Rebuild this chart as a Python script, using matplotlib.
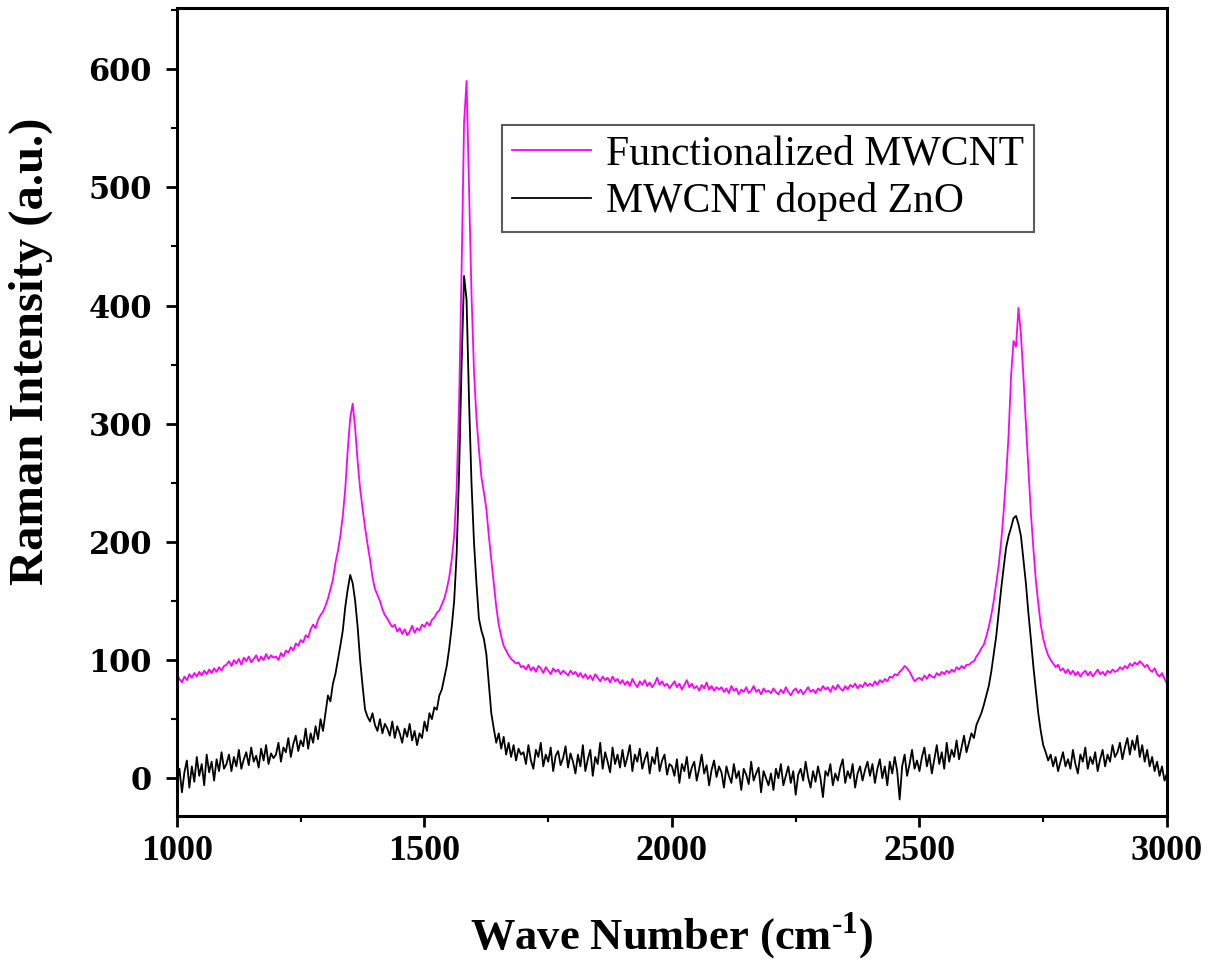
"""Raman spectra of functionalized MWCNT and MWCNT doped ZnO"""
import matplotlib.pyplot as plt
from matplotlib.ticker import MultipleLocator
import numpy as np

# wave numbers, one reading every 5 cm-1 from 1000 to 3000
wave_number = np.arange(1000, 3001, 5)

# Functionalized MWCNT (magenta), rows of 100 cm-1
func_mwcnt = [
    88, 84, 81, 86, 83, 88, 85, 89, 86, 90, 87, 91, 88, 92, 89, 93, 90, 94, 91, 95,
    96, 99, 95, 100, 97, 101, 96, 102, 99, 103, 98, 101, 104, 99, 103, 100, 105, 101, 104, 102,
    103, 100, 106, 103, 108, 106, 111, 108, 114, 112, 117, 115, 121, 119, 126, 130, 127, 134, 138, 141,
    146, 152, 160, 168, 182, 192, 205, 222, 245, 278, 305, 317, 296, 268, 245, 228, 212, 198, 185, 170,
    160, 155, 150, 143, 138, 135, 131, 128, 130, 124, 127, 122, 126, 121, 124, 129, 123, 127, 125, 130,
    128, 132, 129, 134, 136, 140, 142, 147, 152, 160, 170, 185, 205, 245, 320, 430, 555, 590, 500, 410,
    345, 305, 278, 255, 242, 228, 205, 185, 165, 145, 130, 120, 112, 108, 104, 101, 99, 97, 98, 94,
    95, 92, 96, 91, 94, 90, 95, 93, 89, 94, 91, 88, 93, 90, 92, 88, 91, 89, 87, 91,
    88, 90, 86, 89, 85, 88, 84, 87, 83, 88, 85, 82, 86, 83, 85, 81, 86, 82, 84, 80,
    83, 79, 82, 78, 84, 80, 77, 82, 79, 83, 78, 81, 77, 80, 85, 79, 82, 78, 80, 76,
    79, 82, 77, 80, 75, 79, 83, 77, 80, 76, 78, 74, 79, 76, 81, 75, 78, 74, 77, 75,
    77, 73, 76, 72, 78, 74, 76, 71, 75, 73, 77, 72, 74, 78, 73, 75, 71, 76, 73, 74,
    72, 76, 73, 71, 75, 72, 77, 73, 70, 74, 76, 72, 75, 71, 74, 77, 73, 75, 72, 76,
    74, 78, 75, 77, 73, 78, 75, 79, 76, 74, 78, 75, 79, 77, 80, 76, 79, 77, 81, 78,
    80, 78, 82, 79, 83, 81, 84, 82, 86, 85, 88, 87, 90, 92, 95, 93, 90, 86, 82, 84,
    85, 83, 87, 84, 88, 86, 85, 89, 87, 90, 88, 91, 89, 92, 90, 94, 92, 95, 93, 96,
    96, 98, 99, 103, 106, 110, 113, 120, 128, 138, 150, 165, 180, 200, 225, 255, 290, 340, 370, 365,
    398, 375, 340, 300, 262, 225, 195, 168, 148, 130, 118, 110, 104, 100, 97, 94, 96, 91, 93, 89,
    92, 88, 91, 87, 90, 86, 89, 91, 87, 90, 86, 89, 92, 88, 90, 87, 91, 89, 92, 90,
    91, 94, 92, 95, 93, 97, 95, 98, 96, 99, 97, 94, 96, 92, 90, 93, 88, 86, 89, 84,
    80]

# MWCNT doped ZnO (black), rows of 100 cm-1
doped_zno = [
    -5, 8, -12, 5, 15, -8, 10, -3, 18, 2, 12, -6, 20, 5, 14, -2, 16, 6, 22, 8,
    12, 20, 6, 18, 10, 24, 8, 16, 22, 11, 26, 14, 19, 9, 25, 15, 28, 12, 21, 17,
    20, 30, 14, 26, 22, 34, 18, 29, 36, 23, 32, 27, 42, 25, 38, 30, 44, 33, 50, 40,
    55, 70, 65, 80, 88, 100, 112, 125, 145, 160, 172, 165, 150, 128, 100, 78, 58, 52, 48, 55,
    45, 40, 50, 38, 46, 42, 36, 48, 34, 44, 38, 30, 42, 35, 46, 32, 40, 28, 38, 34,
    48, 40, 55, 50, 60, 58, 70, 75, 85, 95, 110, 128, 150, 190, 260, 350, 425, 405, 320, 250,
    200, 165, 135, 125, 118, 105, 80, 55, 42, 30, 38, 25, 35, 20, 30, 18, 28, 15, 25, 20,
    22, 12, 28, 15, 8, 24, 18, 30, 10, 20, 14, 26, 6, 19, 23, 11, 17, 27, 9, 21,
    14, 4, 20, 10, 28, 6, 16, 24, 2, 18, 12, 30, 8, 22, 14, 5, 26, 12, 20, 9,
    24, 10, 18, 28, 6, 20, 14, 25, 8, 16, 22, 4, 18, 12, 26, 6, 15, 20, 3, 12,
    10, 2, 16, -4, 12, 6, 18, 0, 9, 14, -2, 8, 20, 4, 11, -6, 7, 15, 1, 10,
    5, -8, 10, 2, -4, 12, 0, 6, -10, 8, 3, -5, 14, -2, 4, 9, -12, 6, 0, -6,
    4, -10, 8, 0, 12, -6, 2, 10, -4, 6, -14, 3, 8, -2, 14, 1, -8, 6, -3, 10,
    0, -16, 6, 2, 12, -6, 4, -2, 9, 16, -4, 6, 0, 12, -8, 4, 10, -2, 7, 14,
    2, 12, -4, 8, 16, 0, 10, -6, 14, 4, 18, 6, -18, 10, 20, 2, 12, 24, 8, 15,
    6, 18, 26, 10, 20, 4, 16, 28, 12, 22, 8, 30, 14, 24, 18, 32, 16, 26, 36, 22,
    30, 38, 34, 45, 50, 55, 62, 70, 78, 90, 105, 120, 140, 160, 178, 195, 205, 212, 220, 222,
    215, 205, 185, 165, 140, 118, 95, 75, 55, 40, 28, 22, 15, 20, 10, 18, 6, 14, 22, 10,
    16, 8, 24, 12, 4, 20, 14, 26, 8, 18, 12, 22, 6, 16, 24, 10, 20, 14, 28, 18,
    22, 30, 16, 26, 34, 20, 32, 24, 36, 18, 28, 14, 24, 10, 18, 6, 14, 2, 10, -2,
    4]

series_labels = ['Functionalized MWCNT', 'MWCNT doped ZnO']
x_ticks = [1000, 1500, 2000, 2500, 3000]
y_ticks = [0, 100, 200, 300, 400, 500, 600]

SERIF = 'Liberation Serif'


def plot_spectra():
	fig = plt.figure(figsize=(12.18, 9.68), dpi=100)
	ax = fig.add_axes([0.1453, 0.157, 0.8128, 0.835])

	ax.plot(wave_number, func_mwcnt, color='#ff00ff', lw=1.3, label=series_labels[0])
	ax.plot(wave_number, doped_zno, color='black', lw=1.3, label=series_labels[1])

	ax.set_xlim(1000, 3000)
	ax.set_ylim(-32, 652)
	ax.set_xticks(x_ticks)
	ax.set_yticks(y_ticks)
	ax.xaxis.set_minor_locator(MultipleLocator(250))
	ax.yaxis.set_minor_locator(MultipleLocator(50))

	for side in ax.spines.values():
		side.set_linewidth(2.2)
	ax.tick_params(which='major', direction='out', length=8, width=2, top=False, right=False)
	ax.tick_params(which='minor', direction='out', length=4.5, width=1.5, top=False, right=False)
	ax.tick_params(axis='x', pad=6)
	ax.tick_params(axis='y', pad=10)

	for lab in ax.get_xticklabels():
		lab.set_fontfamily(SERIF)
		lab.set_fontweight('bold')
		lab.set_fontsize(26)
	for lab in ax.get_yticklabels():
		lab.set_fontfamily('DejaVu Serif')
		lab.set_fontweight('bold')
		lab.set_fontsize(22)

	ax.set_xlabel(r'Wave Number (cm$^{\mathbf{\text{-}1}}$)', fontfamily=SERIF, fontweight='bold',
		fontsize=32, labelpad=30)
	ax.set_ylabel('Raman Intensity (a.u.)', fontfamily=SERIF, fontweight='bold', fontsize=35)
	ax.yaxis.set_label_coords(-0.125, 0.575)

	leg = ax.legend(loc='upper left', bbox_to_anchor=(0.328, 0.855), prop={'family': SERIF, 'size': 30},
		frameon=True, fancybox=False, edgecolor='#333333', handlelength=1.9, handletextpad=0.35,
		labelspacing=0.2, borderpad=0.25, borderaxespad=0)
	leg.get_frame().set_linewidth(1.5)

	fig.savefig('out.png', dpi=100)
	plt.close()


def main():
	plt.rcParams['mathtext.fontset'] = 'custom'
	plt.rcParams['mathtext.rm'] = 'Liberation Serif'
	plt.rcParams['mathtext.bf'] = 'Liberation Serif:bold'
	plot_spectra()


if __name__ == '__main__':
	main()
